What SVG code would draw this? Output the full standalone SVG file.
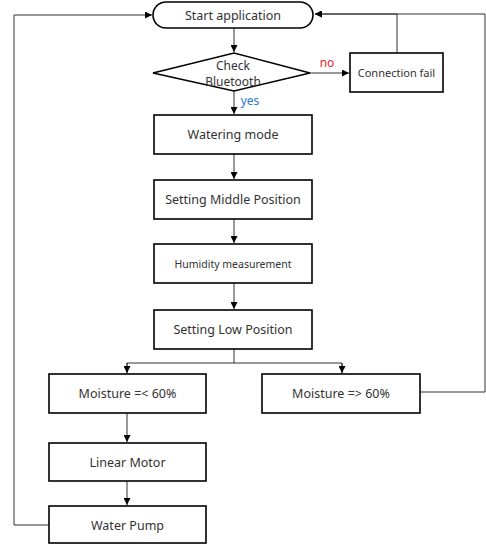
<svg xmlns="http://www.w3.org/2000/svg" width="486" height="545" viewBox="0 0 486 545">
<style>
.n{fill:#fff;stroke:#000;stroke-width:1.6}
.t{font-family:"Noto Sans","Noto Sans CJK KR",sans-serif;font-size:12.5px;fill:#333;text-anchor:middle;dominant-baseline:central}
.c{fill:none;stroke:#333;stroke-width:1}
</style>
<defs>
<marker id="a" viewBox="0 0 10 10" refX="10" refY="5" markerWidth="7" markerHeight="7" markerUnits="userSpaceOnUse" orient="auto"><path d="M0,0L10,5L0,10z" fill="#000"/></marker>
</defs>
<rect width="486" height="545" fill="#fff"/>
<g id="connectors">
<path class="c" d="M234,28V52" marker-end="url(#a)"/>
<path class="c" d="M310,73H349" marker-end="url(#a)"/>
<path class="c" d="M397,53V14H315" marker-end="url(#a)"/>
<path class="c" d="M234,91V114" marker-end="url(#a)"/>
<path class="c" d="M234,154V179" marker-end="url(#a)"/>
<path class="c" d="M234,219V243" marker-end="url(#a)"/>
<path class="c" d="M234,283V309" marker-end="url(#a)"/>
<path class="c" d="M234,349V363"/>
<path class="c" d="M127,373V363H342V373" />
<path class="c" d="M127,363V373" marker-end="url(#a)"/>
<path class="c" d="M342,363V373" marker-end="url(#a)"/>
<path class="c" d="M127,413V442" marker-end="url(#a)"/>
<path class="c" d="M127,481V505" marker-end="url(#a)"/>
<path class="c" d="M420,392H485V14H315" marker-end="url(#a)"/>
<path class="c" d="M49,525H14V15H152" marker-end="url(#a)"/>
<text x="327" y="62" style="font-family:'Noto Sans',sans-serif;font-size:12px;fill:#e8212b;text-anchor:middle;dominant-baseline:central">no</text>
<text x="250" y="100" style="font-family:'Noto Sans',sans-serif;font-size:12px;fill:#2a7ad0;text-anchor:middle;dominant-baseline:central">yes</text>
</g>
<g id="start"><rect class="n" x="153" y="2" width="160" height="26" rx="13"/><text class="t" x="233" y="15">Start application</text></g>
<g id="check"><polygon class="n" points="153,73 234,53 310,73 234,91"/><text class="t" x="233" y="65" style="font-size:12px">Check</text><text class="t" x="233" y="81" style="font-size:12px">Bluetooth</text></g>
<g id="fail"><rect class="n" x="350" y="53" width="93" height="39"/><text class="t" x="396.5" y="72.5" style="font-size:11px">Connection fail</text></g>
<g id="watering"><rect class="n" x="154" y="115" width="158" height="39"/><text class="t" x="233" y="134.5">Watering mode</text></g>
<g id="middle"><rect class="n" x="154" y="180" width="158" height="39"/><text class="t" x="233" y="199.5">Setting Middle Position</text></g>
<g id="humidity"><rect class="n" x="154" y="244" width="158" height="39"/><text class="t" x="233" y="263.5" style="font-size:10.5px">Humidity measurement</text></g>
<g id="low"><rect class="n" x="154" y="310" width="158" height="39"/><text class="t" x="233" y="329.5">Setting Low Position</text></g>
<g id="mlow"><rect class="n" x="49" y="374" width="157" height="39"/><text class="t" x="127.5" y="393.5">Moisture =&lt; 60%</text></g>
<g id="mhigh"><rect class="n" x="262" y="374" width="158" height="39"/><text class="t" x="341" y="393.5">Moisture =&gt; 60%</text></g>
<g id="motor"><rect class="n" x="49" y="443" width="157" height="38"/><text class="t" x="127.5" y="462">Linear Motor</text></g>
<g id="pump"><rect class="n" x="49" y="506" width="157" height="37"/><text class="t" x="127.5" y="525">Water Pump</text></g>
</svg>
